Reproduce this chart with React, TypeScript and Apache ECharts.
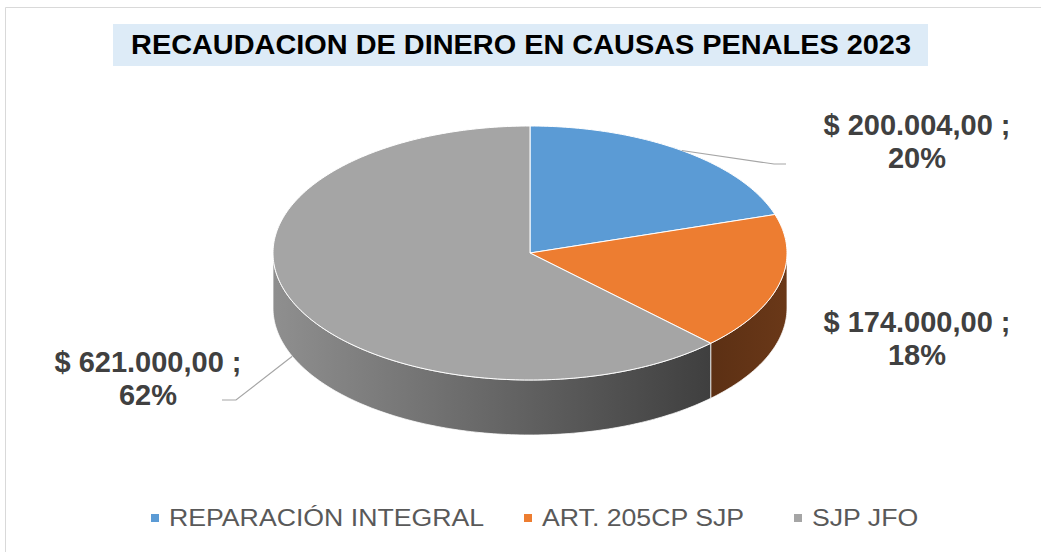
import React, { useEffect, useRef } from "react";
import * as echarts from "echarts";

// Collected amounts per category (pesos)
const categories = ["REPARACIÓN INTEGRAL", "ART. 205CP SJP", "SJP JFO"];
const amounts = [200004, 174000, 621000];
const topColors = ["#5B9BD5", "#ED7D31", "#A5A5A5"];
const sideColors = [
  ["#3f6f9c", "#3f6f9c"],
  ["#5c3014", "#6a3818"],
  ["#8f8f8f", "#3f3f3f"],
];
const titleText = "RECAUDACION DE DINERO EN CAUSAS PENALES 2023";

// Layout of the tilted pie and its callouts
const CX = 530;
const CY = 253;
const RX = 257;
const RY = 127;
const DEPTH = 55;
const labelCenters = [
  [917, 141],
  [917, 338],
  [148, 378],
];

const FONT = "'Liberation Sans', Arial, sans-serif";

function money(v: number): string {
  const [int, dec] = v.toFixed(2).split(".");
  const grouped = int.replace(/\B(?=(\d{3})+(?!\d))/g, ".");
  return `$ ${grouped},${dec}`;
}

// whole-number shares that add up to 100 (largest remainder)
function shares(vals: number[]): number[] {
  const total = vals.reduce((s, v) => s + v, 0);
  const raw = vals.map((v) => (v / total) * 100);
  const out = raw.map((r) => Math.floor(r));
  let left = 100 - out.reduce((s, v) => s + v, 0);
  const order = raw
    .map((r, i) => [r - Math.floor(r), i])
    .sort((a, b) => b[0] - a[0]);
  for (let k = 0; k < order.length && left > 0; k++, left--) out[order[k][1]] += 1;
  return out;
}

function pt(deg: number, r = 1, dz = 0): number[] {
  const a = (deg * Math.PI) / 180;
  return [CX + RX * r * Math.sin(a), CY - RY * r * Math.cos(a) + dz];
}

function arc(a0: number, a1: number, dz = 0): number[][] {
  const out: number[][] = [];
  const steps = Math.max(2, Math.ceil(Math.abs(a1 - a0)));
  for (let k = 0; k <= steps; k++) out.push(pt(a0 + ((a1 - a0) * k) / steps, 1, dz));
  return out;
}

export default function App() {
  const ref = useRef<HTMLDivElement>(null);

  useEffect(() => {
    if (!ref.current) return;
    const chart = echarts.init(ref.current, undefined, { renderer: "svg" });
    const total = amounts.reduce((s, v) => s + v, 0);
    const pcts = shares(amounts);

    const legendX = [151, 524, 794];
    const legendGraphics: any[] = [];
    categories.forEach((name, i) => {
      legendGraphics.push({
        type: "rect",
        shape: { x: legendX[i], y: 514, width: 8, height: 8 },
        style: { fill: topColors[i] },
      });
      legendGraphics.push({
        type: "text",
        x: legendX[i] + 18,
        y: 518,
        scaleX: 1.16,
        style: {
          text: name,
          fill: "#595959",
          font: `23px ${FONT}`,
          verticalAlign: "middle",
        },
      });
    });

    chart.setOption({
      animation: false,
      backgroundColor: "#ffffff",
      graphic: [
        {
          type: "rect",
          shape: { x: 5.5, y: 7.5, width: 1100, height: 600 },
          style: { fill: "none", stroke: "#d9d9d9", lineWidth: 1 },
          z: -10,
        },
        {
          type: "rect",
          shape: { x: 113, y: 24, width: 815, height: 42 },
          style: { fill: "#DDEBF7" },
        },
        {
          type: "text",
          x: 521,
          y: 45,
          scaleX: 1.07,
          style: {
            text: titleText,
            font: `bold 27px ${FONT}`,
            fill: "#000000",
            align: "center",
            verticalAlign: "middle",
          },
        },
        ...legendGraphics,
      ],
      series: [
        {
          type: "custom",
          coordinateSystem: "none",
          data: amounts.map((v) => [v]),
          renderItem: (params: any, api: any) => {
            const i = params.dataIndex;
            const v = api.value(0) as number;
            const before = amounts.slice(0, i).reduce((s, x) => s + x, 0);
            const a0 = (before / total) * 360;
            const a1 = ((before + v) / total) * 360;
            const mid = (a0 + a1) / 2;
            const children: any[] = [];

            // visible front wall of the slice
            const f0 = Math.max(a0, 90);
            const f1 = Math.min(a1, 270);
            if (f1 > f0) {
              const pts = [...arc(f0, f1), ...arc(f1, f0, DEPTH)];
              children.push({
                type: "polygon",
                shape: { points: pts },
                style: {
                  fill: new echarts.graphic.LinearGradient(0, 0, 1, 0, [
                    { offset: 0, color: sideColors[i][0] },
                    { offset: 1, color: sideColors[i][1] },
                  ]),
                  stroke: "rgba(255,255,255,0.75)",
                  lineWidth: 1,
                },
                z2: 1,
              });
            }

            // top face
            children.push({
              type: "polygon",
              shape: { points: [[CX, CY], ...arc(a0, a1)] },
              style: { fill: topColors[i], stroke: "#ffffff", lineWidth: 1 },
              z2: 2,
            });

            // value label
            const [lx, ly] = labelCenters[i];
            children.push({
              type: "text",
              x: lx,
              y: ly,
              style: {
                text: `${money(v)} ;\n${pcts[i]}%`,
                font: `bold 29px ${FONT}`,
                fill: "#404040",
                align: "center",
                verticalAlign: "middle",
                lineHeight: 33,
              },
              z2: 5,
            });

            // leader lines
            if (i === 0) {
              const p = pt(mid, 1);
              children.push({
                type: "polyline",
                shape: { points: [p, [774, 164], [786, 164]] },
                style: { stroke: "#a6a6a6", lineWidth: 1.2, fill: "none" },
                z2: 4,
              });
            } else if (i === 2) {
              const p = pt(mid, 1, DEPTH);
              children.push({
                type: "polyline",
                shape: { points: [p, [236, 400], [222, 400]] },
                style: { stroke: "#a6a6a6", lineWidth: 1.2, fill: "none" },
                z2: 4,
              });
            }

            return { type: "group", children };
          },
        },
      ],
    });

    return () => chart.dispose();
  }, []);

  return (
    <div
      ref={ref}
      style={{ position: "fixed", left: 0, top: 0, width: 1041, height: 552 }}
    />
  );
}
